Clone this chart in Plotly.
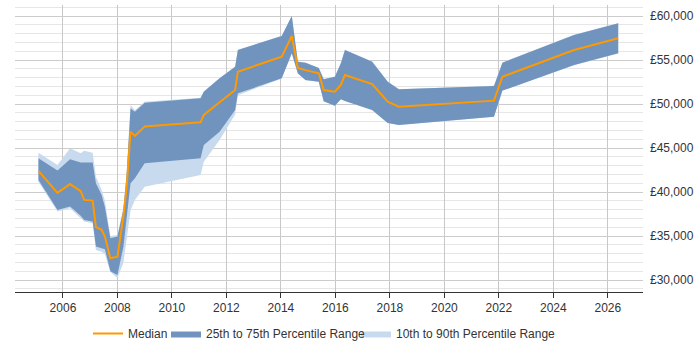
import plotly.graph_objects as go

years = [2005.1, 2005.8, 2006.26, 2006.65, 2006.78, 2007.09, 2007.21, 2007.42, 2007.54, 2007.74,
         2008.0, 2008.22, 2008.34, 2008.48, 2008.64, 2009.0, 2011.05, 2011.17, 2011.75, 2012.32,
         2012.42, 2014.03, 2014.4, 2014.62, 2014.9, 2015.39, 2015.57, 2015.98, 2016.2, 2016.35,
         2017.35, 2017.92, 2018.33, 2021.82, 2022.13, 2024.76, 2026.38]

median = [42400, 39900, 40900, 40100, 39100, 39020, 36000, 35700, 34930, 32470,
          32650, 37300, 40600, 46860, 46370, 47450, 47920, 48750, 50200, 51590,
          53670, 55380, 57730, 54100, 53850, 53490, 51590, 51400, 52160, 53300,
          52270, 50260, 49700, 50380, 53100, 56140, 57470]

p75 = [43830, 42430, 43720, 43340, 43340, 43340, 41000, 39660, 38300, 34750,
       34930, 38000, 42000, 49500, 49130, 50150, 50650, 51400, 52920, 54240,
       56140, 57730, 60000, 54810, 54700, 54100, 52810, 53110, 54620, 56140,
       54810, 52540, 51670, 52050, 54700, 57840, 59170]

p25 = [41360, 37960, 38340, 37300, 36830, 36640, 33800, 33610, 33500, 31000,
       30580, 33800, 37200, 41000, 41560, 43270, 43830, 45350, 46860, 49320,
       51210, 52920, 55760, 53500, 52730, 52540, 50320, 49800, 50550, 50350,
       49320, 47850, 47620, 48560, 51520, 54430, 55760]

p90 = [44470, 43060, 44970, 44400, 44700, 44470, 41740, 40230, 39000, 35000,
       35100, 38200, 42300, 49900, 49300, 50250, 50700, 51450, 52950, 54260,
       56160, 57750, 60020, 54830, 54720, 54120, 52830, 53130, 54640, 56160,
       54830, 52560, 51690, 52070, 54720, 57860, 59190]

p10 = [41170, 37770, 38150, 37000, 36640, 36450, 33420, 33200, 32900, 30950,
       30200, 32000, 34700, 37900, 39100, 40610, 41940, 43450, 45920, 48800,
       51000, 52900, 55740, 53480, 52710, 52520, 50300, 49780, 50530, 50330,
       49300, 47830, 47600, 48540, 51500, 54410, 55740]

tick_years = [2006, 2008, 2010, 2012, 2014, 2016, 2018, 2020, 2022, 2024, 2026]
tick_vals = [30000, 35000, 40000, 45000, 50000, 55000, 60000]
tick_text = ["£30,000", "£35,000", "£40,000", "£45,000", "£50,000", "£55,000", "£60,000"]

LIGHT = "rgb(200,218,238)"
DARK = "rgb(112,148,190)"
ORANGE = "rgb(255,153,0)"

fig = go.Figure()
fig.add_trace(go.Scatter(x=years, y=p10, mode="lines", line=dict(width=0, color=LIGHT),
                         showlegend=False, hoverinfo="skip"))
fig.add_trace(go.Scatter(x=years, y=p90, mode="lines", line=dict(width=0, color=LIGHT),
                         fill="tonexty", fillcolor=LIGHT, name="10th to 90th Percentile Range",
                         legend="legend3"))
fig.add_trace(go.Scatter(x=years, y=p25, mode="lines", line=dict(width=0, color=DARK),
                         showlegend=False, hoverinfo="skip"))
fig.add_trace(go.Scatter(x=years, y=p75, mode="lines", line=dict(width=0, color=DARK),
                         fill="tonexty", fillcolor=DARK, name="25th to 75th Percentile Range",
                         legend="legend2"))
fig.add_trace(go.Scatter(x=years, y=median, mode="lines", line=dict(width=2, color=ORANGE),
                         name="Median", legend="legend"))

def leg(xpix):
    return dict(orientation="h", x=(xpix - 15) / 628, xanchor="left",
                yref="container", y=1 - 319 / 350, yanchor="top",
                font=dict(size=12, color="#333333"), itemwidth=30, bgcolor="rgba(0,0,0,0)")

fig.update_layout(
    width=700, height=350,
    margin=dict(l=15, r=57, t=5, b=58, autoexpand=False),
    paper_bgcolor="white", plot_bgcolor="white",
    font=dict(family="Liberation Sans, Arial, sans-serif", size=12, color="#333333"),
    showlegend=True,
    legend=leg(88), legend2=leg(166), legend3=leg(356),
    xaxis=dict(range=[2004.24, 2027.29], tickvals=tick_years, ticktext=[str(t) for t in tick_years],
               showgrid=True, gridcolor="#c8c8c8", gridwidth=1,
               showline=True, linecolor="#333333", linewidth=1,
               ticks="outside", ticklen=5, tickcolor="#333333", zeroline=False),
    yaxis=dict(range=[28636, 61250], side="right", tickvals=tick_vals, ticktext=tick_text,
               showgrid=True, gridcolor="#cccccc", gridwidth=1, zeroline=False,
               showline=False, ticks="", ticklabelstandoff=6,
               minor=dict(dtick=1000, tick0=0, showgrid=True, gridcolor="#e6e6e6", gridwidth=1)),
)

fig.write_html("out.html")
